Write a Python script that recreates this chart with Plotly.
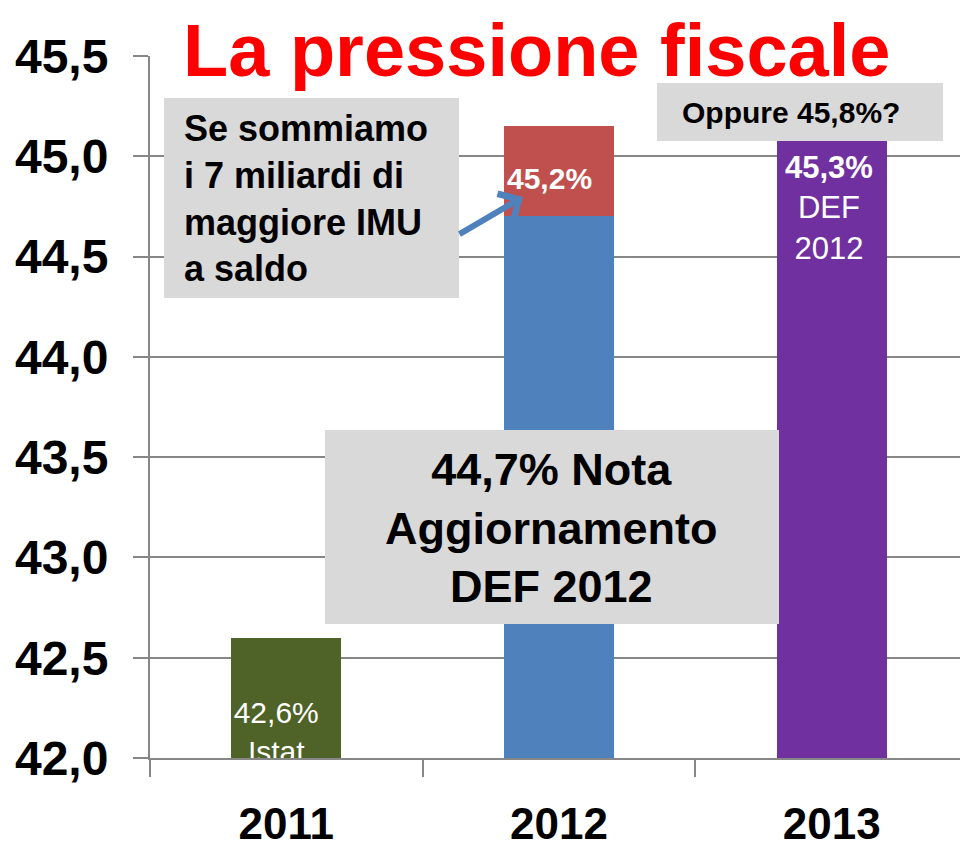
import plotly.graph_objects as go

# ---- data ----
years = ["2011", "2012", "2013"]
base_values = [42.6, 44.7, 45.3]          # main bars
imu_extra = [None, 0.45, None]            # extra IMU on top of 2012
bar_colors = ["#4F6228", "#4F81BD", "#7030A0"]
extra_color = "#C0504D"
y_ticks = [42.0, 42.5, 43.0, 43.5, 44.0, 44.5, 45.0, 45.5]
y_ticktext = ["42,0", "42,5", "43,0", "43,5", "44,0", "44,5", "45,0", "45,5"]

W, H = 960, 853
L, R, T, B = 150, 0, 56, 95
PW, PH = W - L - R, H - T - B
GRID = "#878787"
BOX = "#D9D9D9"
FONT = "Liberation Sans, Arial, sans-serif"


def px(x):
    return (x - L) / PW


def py(y):
    return (H - B - y) / PH


xs = list(range(len(years)))

fig = go.Figure()
fig.add_trace(go.Bar(x=xs, y=base_values, marker=dict(color=bar_colors, line=dict(width=0)),
                     width=0.403, hoverinfo="skip"))
fig.add_trace(go.Bar(x=xs, y=imu_extra, marker=dict(color=extra_color, line=dict(width=0)),
                     width=0.403, hoverinfo="skip"))
# clipped label in 2011 bar
fig.add_trace(go.Scatter(x=[xs[0] - 0.037], y=[42.114], mode="text",
                         text=["42,6%<br>Istat"], textposition="middle center",
                         textfont=dict(family=FONT, size=30, color="white"),
                         cliponaxis=True, hoverinfo="skip"))

shapes = [
    # white title backing covering the top gridline
    dict(type="rect", xref="paper", yref="paper", x0=px(157), x1=1.0, y0=py(70), y1=py(40),
         fillcolor="white", line=dict(width=0), layer="above"),
    dict(type="rect", xref="paper", yref="paper", x0=px(164), x1=px(459), y0=py(298), y1=py(98),
         fillcolor=BOX, line=dict(width=0), layer="above"),
    dict(type="rect", xref="paper", yref="paper", x0=px(657), x1=px(943), y0=py(141), y1=py(83),
         fillcolor=BOX, line=dict(width=0), layer="above"),
    dict(type="rect", xref="paper", yref="paper", x0=px(325), x1=px(779), y0=py(624), y1=py(430),
         fillcolor=BOX, line=dict(width=0), layer="above"),
]

annotations = [
    dict(text="La pressione fiscale", xref="paper", yref="paper", x=px(536), y=py(50),
         xanchor="center", yanchor="middle", showarrow=False,
         font=dict(family=FONT, size=74, color="#FF0000", weight="bold")),
    dict(text="Se sommiamo<br>i 7 miliardi di<br>maggiore IMU<br>a saldo", xref="paper", yref="paper",
         x=px(182), y=py(198), xanchor="left", yanchor="middle", align="left", showarrow=False,
         font=dict(family=FONT, size=36, color="black", weight="bold")),
    dict(text="", xref="paper", yref="paper", x=px(523), y=py(197), ax=-65, ay=38,
         showarrow=True, arrowhead=4, arrowsize=1, arrowwidth=6, arrowcolor="#4F81BD"),
    dict(text="Oppure 45,8%?", xref="paper", yref="paper", x=px(791), y=py(112),
         xanchor="center", yanchor="middle", showarrow=False,
         font=dict(family=FONT, size=30, color="black", weight="bold")),
    dict(text="44,7% Nota<br>Aggiornamento<br>DEF 2012", xref="paper", yref="paper",
         x=px(551), y=py(528), xanchor="center", yanchor="middle", align="center", showarrow=False,
         font=dict(family=FONT, size=45, color="black", weight="bold")),
    dict(text="<b>45,2%</b>", xref="paper", yref="paper", x=px(549), y=py(178),
         xanchor="center", yanchor="middle", showarrow=False,
         font=dict(family=FONT, size=30, color="white")),
    dict(text="<b>45,3%</b><br>DEF<br>2012", xref="paper", yref="paper", x=px(829), y=py(208),
         xanchor="center", yanchor="middle", align="center", showarrow=False,
         font=dict(family=FONT, size=31, color="white")),
]

fig.update_layout(
    width=W, height=H, margin=dict(l=L, r=R, t=T, b=B, pad=0, autoexpand=False),
    paper_bgcolor="white", plot_bgcolor="white",
    barmode="stack", bargap=0, showlegend=False,
    shapes=shapes, annotations=annotations,
    xaxis=dict(range=[-0.5, 2.4707], tickmode="array", tickvals=xs, ticktext=years,
               ticks="", showgrid=False, zeroline=False, automargin=False,
               showline=True, linecolor=GRID, linewidth=2,
               tickfont=dict(family=FONT, size=44, color="black", weight="bold"),
               ticklabelstandoff=26,
               minor=dict(tickmode="array", tickvals=[-0.5, 0.5, 1.5], ticks="outside",
                          ticklen=17, tickcolor=GRID, tickwidth=2, showgrid=False)),
    yaxis=dict(range=[42.0, 45.5], tickmode="array", tickvals=y_ticks, ticktext=y_ticktext,
               ticks="outside", ticklen=15, tickcolor=GRID, tickwidth=2,
               showgrid=True, gridcolor=GRID, gridwidth=2, zeroline=False, automargin=False,
               showline=True, linecolor=GRID, linewidth=2,
               tickfont=dict(family=FONT, size=48, color="black", weight="bold"),
               ticklabelstandoff=15),
)

fig.write_html("out.html", config={"displayModeBar": False},
               post_script="document.body.style.margin='0';document.body.style.overflow='hidden';")
